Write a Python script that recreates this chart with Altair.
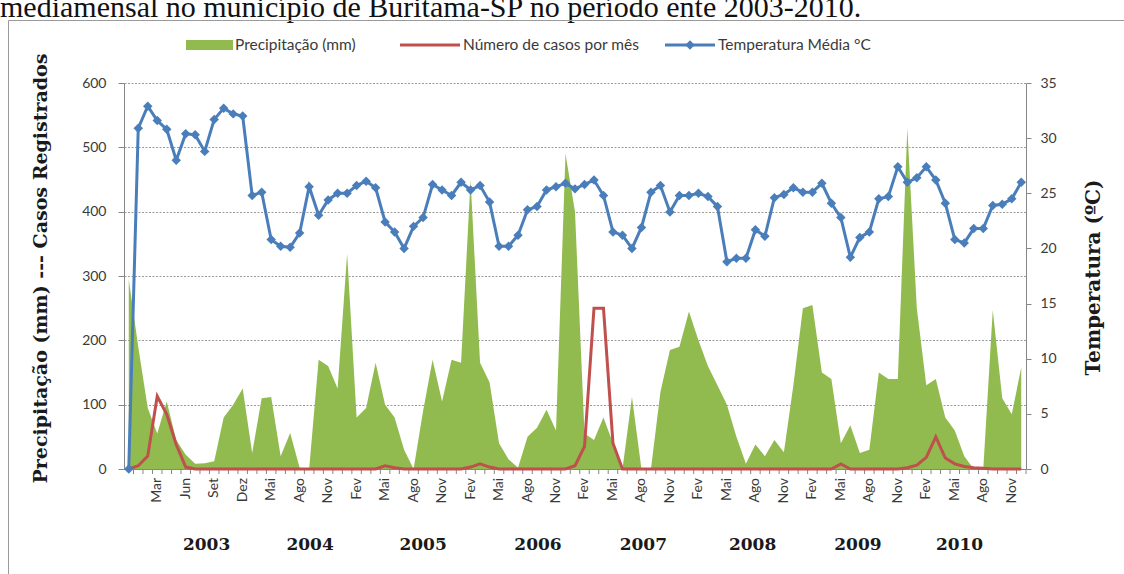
import altair as alt
import pandas as pd

# Month names printed under every third category of the time axis
month_labels = ["Mar", "Jun", "Set", "Dez", "Mai", "Ago", "Nov",
                "Fev", "Mai", "Ago", "Nov", "Fev", "Mai", "Ago", "Nov",
                "Fev", "Mai", "Ago", "Nov", "Fev", "Mai", "Ago", "Nov",
                "Fev", "Mai", "Ago", "Nov", "Fev", "Mai", "Ago", "Nov"]

years = ["2003", "2004", "2005", "2006", "2007", "2008", "2009", "2010"]
# category position (in months) where each year label is centred
year_at = [8.2, 19.1, 31.0, 43.1, 54.2, 65.7, 76.8, 87.5]

# Monthly rainfall (mm)
precip = [295, 190, 95, 55, 105, 45, 22, 8, 9, 12, 80, 100, 125, 25, 110, 112,
          20, 56, 2, 0, 170, 160, 125, 335, 80, 95, 165, 100, 80, 30, 0, 90,
          170, 105, 170, 165, 450, 165, 135, 40, 15, 2, 50, 64, 92, 60, 490,
          400, 55, 45, 80, 40, 0, 112, 0, 0, 120, 185, 190, 245, 200, 160,
          130, 100, 50, 8, 38, 20, 45, 26, 130, 250, 255, 150, 140, 40, 68,
          25, 30, 150, 140, 140, 530, 250, 130, 140, 80, 60, 20, 0, 0, 247,
          110, 85, 158]

# Registered cases per month
casos = [0, 5, 20, 113, 85, 38, 3, 0, 0, 0, 0, 0, 0, 0, 0, 0,
         0, 0, 0, 0, 0, 0, 0, 0, 0, 0, 0, 5, 2, 0, 0, 0,
         0, 0, 0, 0, 3, 8, 3, 0, 0, 0, 0, 0, 0, 0, 0,
         5, 35, 250, 250, 40, 0, 0, 0, 0, 0, 0, 0, 0, 0, 0,
         0, 0, 0, 0, 0, 0, 0, 0, 0, 0, 0, 0, 0, 8, 0,
         0, 0, 0, 0, 0, 2, 6, 18, 50, 17, 8, 4, 2, 1, 0,
         0, 0, 0]

# Mean monthly temperature (ºC)
temp = [0.0, 30.9, 32.9, 31.6, 30.8, 28.0, 30.4, 30.3, 28.8, 31.7, 32.7, 32.2,
        32.0, 24.8, 25.1, 20.8, 20.2, 20.1, 21.4, 25.6, 23.0, 24.4, 25.0, 25.0,
        25.7, 26.1, 25.5, 22.4, 21.5, 20.0, 22.0, 22.8, 25.8, 25.3, 24.8, 26.0,
        25.3, 25.7, 24.2, 20.2, 20.2, 21.2, 23.5, 23.8, 25.3, 25.6, 25.9, 25.4,
        25.8, 26.2, 24.8, 21.5, 21.2, 20.0, 21.9, 25.1, 25.7, 23.3, 24.8, 24.8,
        25.0, 24.7, 23.8, 18.8, 19.1, 19.1, 21.7, 21.1, 24.6, 24.9, 25.5, 25.1,
        25.1, 25.9, 24.1, 22.8, 19.2, 21.0, 21.5, 24.5, 24.7, 27.4, 26.0, 26.4,
        27.4, 26.2, 24.1, 20.8, 20.5, 21.8, 21.8, 23.9, 24.0, 24.5, 26.0]

n = len(temp)
df = pd.DataFrame({"i": list(range(n)), "precip": precip,
                   "casos": casos, "temp": temp})

W, H = 902, 386
OX, OY = 124, 83          # plot origin inside the 1124x574 canvas

GREEN = "#92bb4f"
RED = "#c0504d"
BLUE = "#4a7ebb"
AXIS_GREY = "#868686"
TEXT = "#3a3a3a"
LABEL_FONT = "Lato"
SERIF = "DejaVu Serif"

x_scale = alt.Scale(domain=[-0.5, n - 0.5], nice=False, zero=False)
# every third category carries a month name
label_pos = list(range(3, 3 * len(month_labels) + 1, 3))

x_axis = alt.Axis(labels=False, ticks=False, grid=False, title=None)

base = alt.Chart(df)

rain = base.mark_area(color=GREEN, opacity=1, interpolate="linear").encode(
    x=alt.X("i:Q", scale=x_scale, axis=x_axis),
    y=alt.Y("precip:Q",
            scale=alt.Scale(domain=[0, 600], nice=False),
            axis=alt.Axis(values=list(range(0, 601, 100)), grid=True,
                          gridColor="#9a9a9a", gridDash=[2, 1.5], gridWidth=1,
                          tickSize=6, labelPadding=12, labelFontSize=14,
                          title="Precipitação (mm) --- Casos Registrados",
                          titleFont=SERIF, titleFontWeight="bold",
                          titleFontSize=19, titleColor="#1a1a1a",
                          titleAngle=270, titleAlign="center",
                          titleBaseline="middle",
                          titleX=40 - OX, titleY=268 - OY)),
)

# small category separators hanging below the time axis
cat_ticks = base.transform_calculate(edge="datum.i + 0.5").mark_rule(
    color=AXIS_GREY, strokeWidth=1
).encode(
    x=alt.X("edge:Q", scale=x_scale),
    y=alt.value(H), y2=alt.value(H + 5),
)

# rotated month names under the axis
month_text = alt.Chart(pd.DataFrame({"m": month_labels, "at": label_pos})).mark_text(
    font=LABEL_FONT, fontSize=14, color=TEXT, angle=270,
    align="right", baseline="middle",
).encode(
    x=alt.X("at:Q", scale=x_scale),
    y=alt.value(H + 9),
    text="m:N",
)

cases = base.mark_line(color=RED, strokeWidth=3).encode(
    x=alt.X("i:Q", scale=x_scale),
    y=alt.Y("casos:Q", scale=alt.Scale(domain=[0, 600], nice=False), axis=None),
)

temperature = base.mark_line(
    color=BLUE, strokeWidth=3,
    point=alt.OverlayMarkDef(shape="diamond", size=90, filled=True, color=BLUE),
).encode(
    x=alt.X("i:Q", scale=x_scale),
    y=alt.Y("temp:Q",
            scale=alt.Scale(domain=[0, 35], nice=False),
            axis=alt.Axis(orient="right", values=list(range(0, 36, 5)),
                          grid=False, tickSize=5, labelPadding=9,
                          labelFontSize=14,
                          title="Temperatura (ºC)",
                          titleFont=SERIF, titleFontWeight="bold",
                          titleFontSize=20, titleColor="#1a1a1a",
                          titleAngle=270, titleAlign="center",
                          titleBaseline="middle",
                          titleX=1093 - (OX + W), titleY=277 - OY)),
)

year_text = alt.Chart(pd.DataFrame({"year": years, "at": year_at})).mark_text(
    font=SERIF, fontWeight="bold", fontSize=17, color="#1a1a1a",
    baseline="middle", align="center",
).encode(
    x=alt.X("at:Q", scale=x_scale),
    y=alt.value(545 - OY),
    text="year:N",
)


def single(label=""):
    return alt.Chart(pd.DataFrame({"t": [label]}))


# legend row
leg_y = 45 - OY
LEG_FS = 15.5
leg_rain_box = single().mark_rect(color=GREEN).encode(
    x=alt.value(186 - OX), x2=alt.value(233 - OX),
    y=alt.value(leg_y - 5), y2=alt.value(leg_y + 5))
leg_rain_txt = single("Precipitação (mm)").mark_text(
    font=LABEL_FONT, fontSize=LEG_FS, color=TEXT, align="left", baseline="middle"
).encode(x=alt.value(235 - OX), y=alt.value(leg_y), text="t:N")
leg_case_line = single().mark_rule(color=RED, strokeWidth=3).encode(
    x=alt.value(400 - OX), x2=alt.value(460 - OX), y=alt.value(leg_y))
leg_case_txt = single("Número de casos por mês").mark_text(
    font=LABEL_FONT, fontSize=LEG_FS, color=TEXT, align="left", baseline="middle"
).encode(x=alt.value(463 - OX), y=alt.value(leg_y), text="t:N")
leg_temp_line = single().mark_rule(color=BLUE, strokeWidth=3).encode(
    x=alt.value(665 - OX), x2=alt.value(715 - OX), y=alt.value(leg_y))
leg_temp_pt = single().mark_point(shape="diamond", size=90, filled=True,
                                  color=BLUE, opacity=1).encode(
    x=alt.value(690 - OX), y=alt.value(leg_y))
leg_temp_txt = single("Temperatura Média °C").mark_text(
    font=LABEL_FONT, fontSize=LEG_FS, color=TEXT, align="left", baseline="middle"
).encode(x=alt.value(718 - OX), y=alt.value(leg_y), text="t:N")

# caption line above the chart frame and the frame itself
caption = single("mediamensal no município de Buritama-SP no período ente 2003-2010.").mark_text(
    font="Liberation Serif", fontSize=30, color="#111111",
    align="left", baseline="alphabetic"
).encode(x=alt.value(0 - OX), y=alt.value(17 - OY), text="t:N")
frame_top = single().mark_rule(color="#9a9a9a", strokeWidth=1).encode(
    x=alt.value(8.5 - OX), x2=alt.value(1124 - OX), y=alt.value(20.5 - OY))
frame_left = single().mark_rule(color="#9a9a9a", strokeWidth=1).encode(
    x=alt.value(8.5 - OX), y=alt.value(20.5 - OY), y2=alt.value(574 - OY))

chart = alt.layer(
    rain, cat_ticks, month_text, cases, temperature, year_text,
    leg_rain_box, leg_rain_txt, leg_case_line, leg_case_txt,
    leg_temp_line, leg_temp_pt, leg_temp_txt,
    caption, frame_top, frame_left,
).resolve_scale(
    y="independent"
).properties(
    width=W, height=H,
    autosize=alt.AutoSizeParams(type="none"),
    padding={"left": OX, "top": OY, "right": 1124 - OX - W, "bottom": 574 - OY - H},
    background="white",
).configure_view(
    stroke=None
).configure_axis(
    domainColor=AXIS_GREY, tickColor=AXIS_GREY, labelColor=TEXT,
    labelFont=LABEL_FONT, domainWidth=1, tickWidth=1,
)

chart.save("out.html", embed_options={"renderer": "svg", "actions": False})
